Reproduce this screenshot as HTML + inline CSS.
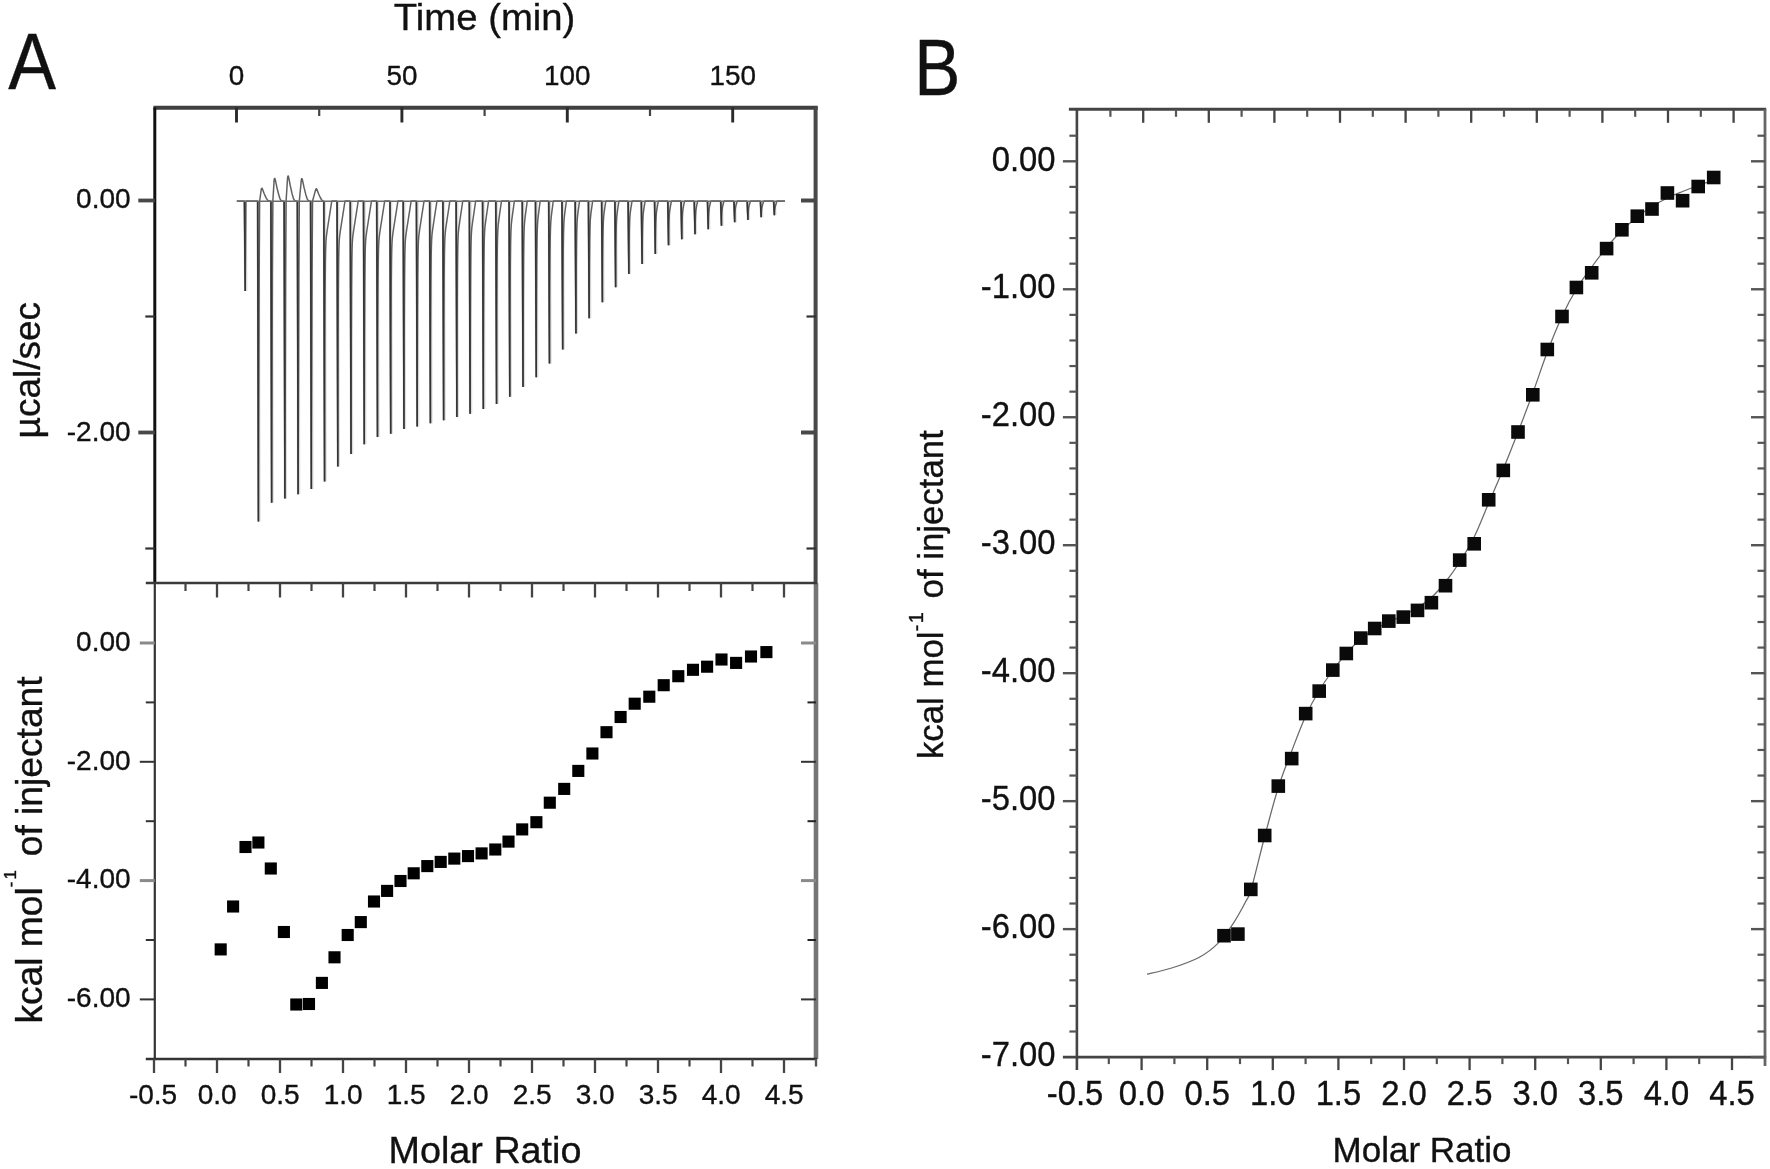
<!DOCTYPE html>
<html lang="en">
<head>
<meta charset="utf-8">
<title>ITC titration figure</title>
<style>
html,body{margin:0;padding:0;background:#fff;}
body{width:1770px;height:1169px;overflow:hidden;}
svg{display:block;filter:blur(0.55px);}
.t{font-family:"Liberation Sans",sans-serif;fill:#111;stroke:#111;stroke-width:0.35px;}
</style>
</head>
<body>
<svg width="1770" height="1169" viewBox="0 0 1770 1169">
<rect x="0" y="0" width="1770" height="1169" fill="#fff"/>
<line x1="153.40" y1="107.80" x2="817.80" y2="107.80" stroke="#404040" stroke-width="4.0" />
<line x1="154.80" y1="107.50" x2="154.80" y2="583.00" stroke="#111" stroke-width="3.0" />
<line x1="154.80" y1="583.00" x2="154.80" y2="1059.00" stroke="#333" stroke-width="2.2" />
<line x1="815.60" y1="107.50" x2="815.60" y2="583.00" stroke="#484848" stroke-width="4.0" />
<line x1="816.00" y1="583.00" x2="816.00" y2="1059.00" stroke="#747474" stroke-width="4.6" />
<line x1="145.80" y1="583.00" x2="817.00" y2="583.00" stroke="#3a3a3a" stroke-width="2.6" />
<line x1="145.80" y1="1059.00" x2="817.00" y2="1059.00" stroke="#333" stroke-width="2.4" />
<line x1="236.50" y1="107.50" x2="236.50" y2="122.50" stroke="#2a2a2a" stroke-width="2.9" />
<text class="t" font-size="28" text-anchor="middle" transform="translate(236.50 85.20) scale(0.995 1)" >0</text>
<line x1="401.90" y1="107.50" x2="401.90" y2="122.50" stroke="#2a2a2a" stroke-width="2.9" />
<text class="t" font-size="28" text-anchor="middle" transform="translate(401.90 85.20) scale(0.995 1)" >50</text>
<line x1="567.30" y1="107.50" x2="567.30" y2="122.50" stroke="#2a2a2a" stroke-width="2.9" />
<text class="t" font-size="28" text-anchor="middle" transform="translate(567.30 85.20) scale(0.995 1)" >100</text>
<line x1="732.70" y1="107.50" x2="732.70" y2="122.50" stroke="#2a2a2a" stroke-width="2.9" />
<text class="t" font-size="28" text-anchor="middle" transform="translate(732.70 85.20) scale(0.995 1)" >150</text>
<line x1="319.20" y1="107.50" x2="319.20" y2="116.00" stroke="#444" stroke-width="2.2" />
<line x1="484.60" y1="107.50" x2="484.60" y2="116.00" stroke="#444" stroke-width="2.2" />
<line x1="650.00" y1="107.50" x2="650.00" y2="116.00" stroke="#444" stroke-width="2.2" />
<text class="t" font-size="37" text-anchor="middle" transform="translate(484.6 30.2) scale(1.035 1)">Time (min)</text>
<line x1="138.30" y1="200.50" x2="154.80" y2="200.50" stroke="#484848" stroke-width="3.8" />
<line x1="801.00" y1="200.50" x2="816.00" y2="200.50" stroke="#484848" stroke-width="4.0" />
<text class="t" font-size="28" text-anchor="end" transform="translate(130.60 207.50) scale(1.0 1)" >0.00</text>
<line x1="138.30" y1="432.50" x2="154.80" y2="432.50" stroke="#484848" stroke-width="3.8" />
<line x1="801.00" y1="432.50" x2="816.00" y2="432.50" stroke="#484848" stroke-width="4.0" />
<text class="t" font-size="28" text-anchor="end" transform="translate(130.60 441.10) scale(1.0 1)" >-2.00</text>
<line x1="145.30" y1="316.50" x2="154.80" y2="316.50" stroke="#333" stroke-width="2.2" />
<line x1="806.50" y1="316.50" x2="816.00" y2="316.50" stroke="#333" stroke-width="2.2" />
<line x1="145.30" y1="548.50" x2="154.80" y2="548.50" stroke="#333" stroke-width="2.2" />
<line x1="806.50" y1="548.50" x2="816.00" y2="548.50" stroke="#333" stroke-width="2.2" />
<text class="t" font-size="37" text-anchor="middle" transform="translate(39.8 370.2) rotate(-90)">µcal/sec</text>
<path d="M236.80,201.00 L244.30,201.00 L245.20,291.00 L245.90,201.00 L257.53,201.00 L258.43,521.60 L259.13,281.15 L259.63,201.00 L261.33,188.91 L261.83,188.00 L262.43,188.91 L264.03,193.20 L265.83,197.36 L267.33,199.96 L268.63,201.00 L270.76,201.00 L271.66,502.70 L272.36,276.43 L272.86,201.00 L274.16,179.61 L274.66,178.00 L275.26,179.61 L276.86,187.20 L278.66,194.56 L280.16,199.16 L281.46,201.00 L283.99,201.00 L284.89,498.50 L285.59,275.38 L286.09,201.00 L287.59,177.38 L288.09,175.60 L288.69,177.38 L290.29,185.76 L292.09,193.89 L293.59,198.97 L294.89,201.00 L297.22,201.00 L298.12,494.20 L298.82,274.30 L299.32,201.00 L301.32,179.89 L301.82,178.30 L302.42,179.89 L304.02,187.38 L305.82,194.64 L307.32,199.18 L308.62,201.00 L310.45,201.00 L311.35,489.00 L312.05,273.00 L312.55,201.00 L315.75,189.38 L316.25,188.50 L316.85,189.38 L318.45,193.50 L320.25,197.50 L321.75,200.00 L323.05,201.00 L323.68,201.00 L324.58,481.40 L324.83,352.72 L325.08,292.94 L325.33,264.70 L325.58,250.91 L325.83,243.73 L326.08,239.58 L326.33,236.81 L326.58,234.67 L326.83,232.83 L327.08,231.12 L327.33,229.47 L327.58,227.85 L327.83,226.25 L328.08,224.64 L328.33,223.04 L328.58,221.45 L328.83,219.85 L329.08,218.25 L329.33,216.65 L329.58,215.06 L329.83,213.46 L330.08,211.86 L330.33,210.26 L330.58,208.67 L330.83,207.07 L331.08,205.47 L331.33,203.88 L331.58,202.28 L331.83,201.00 L336.91,201.00 L337.81,466.50 L338.06,345.90 L338.31,289.82 L338.56,263.27 L338.81,250.26 L339.06,243.43 L339.31,239.44 L339.56,236.74 L339.81,234.65 L340.06,232.82 L340.31,231.12 L340.56,229.47 L340.81,227.85 L341.06,226.24 L341.31,224.64 L341.56,223.04 L341.81,221.45 L342.06,219.85 L342.31,218.25 L342.56,216.65 L342.81,215.06 L343.06,213.46 L343.31,211.86 L343.56,210.26 L343.81,208.67 L344.06,207.07 L344.31,205.47 L344.56,203.88 L344.81,202.28 L345.06,201.00 L350.14,201.00 L351.04,454.00 L351.29,340.17 L351.54,287.20 L351.79,262.07 L352.04,249.71 L352.29,243.18 L352.54,239.32 L352.79,236.69 L353.04,234.62 L353.29,232.81 L353.54,231.11 L353.79,229.47 L354.04,227.85 L354.29,226.24 L354.54,224.64 L354.79,223.04 L355.04,221.45 L355.29,219.85 L355.54,218.25 L355.79,216.65 L356.04,215.06 L356.29,213.46 L356.54,211.86 L356.79,210.26 L357.04,208.67 L357.29,207.07 L357.54,205.47 L357.79,203.88 L358.04,202.28 L358.29,201.00 L363.37,201.00 L364.27,444.20 L364.52,335.69 L364.77,285.14 L365.02,261.13 L365.27,249.28 L365.52,242.98 L365.77,239.23 L366.02,236.65 L366.27,234.60 L366.52,232.80 L366.77,231.11 L367.02,229.47 L367.27,227.85 L367.52,226.24 L367.77,224.64 L368.02,223.04 L368.27,221.45 L368.52,219.85 L368.77,218.25 L369.02,216.65 L369.27,215.06 L369.52,213.46 L369.77,211.86 L370.02,210.26 L370.27,208.67 L370.52,207.07 L370.77,205.47 L371.02,203.88 L371.27,202.28 L371.52,201.00 L376.60,201.00 L377.50,436.90 L377.75,332.35 L378.00,283.61 L378.25,260.43 L378.50,248.95 L378.75,242.83 L379.00,239.17 L379.25,236.62 L379.50,234.59 L379.75,232.79 L380.00,231.10 L380.25,229.47 L380.50,227.85 L380.75,226.24 L381.00,224.64 L381.25,223.04 L381.50,221.45 L381.75,219.85 L382.00,218.25 L382.25,216.65 L382.50,215.06 L382.75,213.46 L383.00,211.86 L383.25,210.26 L383.50,208.67 L383.75,207.07 L384.00,205.47 L384.25,203.88 L384.50,202.28 L384.75,201.00 L389.83,201.00 L390.73,433.80 L390.98,330.93 L391.23,282.96 L391.48,260.13 L391.73,248.82 L391.98,242.77 L392.23,239.14 L392.48,236.61 L392.73,234.58 L392.98,232.79 L393.23,231.10 L393.48,229.47 L393.73,227.85 L393.98,226.24 L394.23,224.64 L394.48,223.04 L394.73,221.45 L394.98,219.85 L395.23,218.25 L395.48,216.65 L395.73,215.06 L395.98,213.46 L396.23,211.86 L396.48,210.26 L396.73,208.67 L396.98,207.07 L397.23,205.47 L397.48,203.88 L397.73,202.28 L397.98,201.00 L403.06,201.00 L403.96,428.90 L404.21,328.68 L404.46,281.93 L404.71,259.66 L404.96,248.60 L405.21,242.67 L405.46,239.09 L405.71,236.59 L405.96,234.57 L406.21,232.79 L406.46,231.10 L406.71,229.46 L406.96,227.85 L407.21,226.24 L407.46,224.64 L407.71,223.04 L407.96,221.45 L408.21,219.85 L408.46,218.25 L408.71,216.65 L408.96,215.06 L409.21,213.46 L409.46,211.86 L409.71,210.26 L409.96,208.67 L410.21,207.07 L410.46,205.47 L410.71,203.88 L410.96,202.28 L411.21,201.00 L416.29,201.00 L417.19,426.60 L417.44,326.74 L417.69,280.15 L417.94,257.94 L418.19,246.90 L418.44,240.97 L418.69,237.37 L418.94,234.85 L419.19,232.82 L419.44,231.02 L419.69,229.32 L419.94,227.66 L420.19,226.03 L420.44,224.40 L420.69,222.78 L420.94,221.17 L421.19,219.55 L421.44,217.93 L421.69,216.32 L421.94,214.70 L422.19,213.09 L422.44,211.47 L422.69,209.85 L422.94,208.24 L423.19,206.62 L423.44,205.01 L423.69,203.39 L423.94,201.78 L424.19,201.00 L429.52,201.00 L430.42,423.20 L430.67,324.30 L430.92,278.13 L431.17,256.11 L431.42,245.14 L431.67,239.23 L431.92,235.64 L432.17,233.10 L432.42,231.06 L432.67,229.23 L432.92,227.51 L433.17,225.84 L433.42,224.18 L433.67,222.54 L433.92,220.90 L434.17,219.26 L434.42,217.62 L434.67,215.99 L434.92,214.35 L435.17,212.71 L435.42,211.08 L435.67,209.44 L435.92,207.81 L436.17,206.17 L436.42,204.53 L436.67,202.90 L436.92,201.26 L437.17,201.00 L442.75,201.00 L443.65,420.30 L443.90,322.08 L444.15,276.21 L444.40,254.32 L444.65,243.39 L444.90,237.49 L445.15,233.89 L445.40,231.34 L445.65,229.27 L445.90,227.43 L446.15,225.69 L446.40,223.99 L446.65,222.31 L446.90,220.64 L447.15,218.98 L447.40,217.32 L447.65,215.66 L447.90,214.00 L448.15,212.35 L448.40,210.69 L448.65,209.03 L448.90,207.37 L449.15,205.71 L449.40,204.05 L449.65,202.39 L449.90,201.00 L455.98,201.00 L456.88,416.90 L457.13,319.63 L457.38,274.19 L457.63,252.47 L457.88,241.61 L458.13,235.73 L458.38,232.12 L458.63,229.56 L458.88,227.47 L459.13,225.60 L459.38,223.83 L459.63,222.11 L459.88,220.41 L460.13,218.72 L460.38,217.03 L460.63,215.35 L460.88,213.66 L461.13,211.98 L461.38,210.29 L461.63,208.61 L461.88,206.93 L462.13,205.24 L462.38,203.56 L462.63,201.88 L462.88,201.00 L469.21,201.00 L470.11,413.80 L470.36,317.32 L470.61,272.22 L470.86,250.64 L471.11,239.83 L471.36,233.96 L471.61,230.34 L471.86,227.76 L472.11,225.64 L472.36,223.75 L472.61,221.95 L472.86,220.20 L473.11,218.47 L473.36,216.75 L473.61,215.04 L473.86,213.33 L474.11,211.61 L474.36,209.90 L474.61,208.19 L474.86,206.48 L475.11,204.77 L475.36,203.05 L475.61,201.34 L475.86,201.00 L482.44,201.00 L483.34,409.00 L483.59,314.22 L483.84,269.88 L484.09,248.64 L484.34,237.97 L484.59,232.14 L484.84,228.52 L485.09,225.92 L485.34,223.78 L485.59,221.86 L485.84,220.04 L486.09,218.26 L486.34,216.50 L486.59,214.74 L486.84,213.00 L487.09,211.25 L487.34,209.51 L487.59,207.76 L487.84,206.02 L488.09,204.28 L488.34,202.53 L488.59,201.00 L495.67,201.00 L496.57,403.90 L496.82,310.98 L497.07,267.48 L497.32,246.59 L497.57,236.07 L497.82,230.29 L498.07,226.67 L498.32,224.05 L498.57,221.89 L498.82,219.94 L499.07,218.08 L499.32,216.26 L499.57,214.46 L499.82,212.68 L500.07,210.90 L500.32,209.11 L500.57,207.33 L500.82,205.55 L501.07,203.78 L501.32,202.00 L501.57,201.00 L508.90,201.00 L509.80,396.70 L510.05,306.78 L510.30,264.62 L510.55,244.33 L510.80,234.06 L511.05,228.37 L511.30,224.78 L511.55,222.14 L511.80,219.95 L512.05,217.96 L512.30,216.06 L512.55,214.21 L512.80,212.37 L513.05,210.54 L513.30,208.72 L513.55,206.90 L513.80,205.08 L514.05,203.26 L514.30,201.44 L514.55,201.00 L522.13,201.00 L523.03,387.00 L523.28,301.42 L523.53,261.23 L523.78,241.81 L524.03,231.91 L524.28,226.37 L524.53,222.82 L524.78,220.18 L525.03,217.96 L525.28,215.93 L525.53,213.99 L525.78,212.08 L526.03,210.20 L526.28,208.33 L526.53,206.46 L526.78,204.59 L527.03,202.72 L527.28,201.00 L535.36,201.00 L536.26,377.20 L536.51,296.01 L536.76,257.80 L537.01,239.26 L537.26,229.73 L537.51,224.33 L537.76,220.81 L538.01,218.15 L538.26,215.90 L538.51,213.82 L538.76,211.83 L539.01,209.87 L539.26,207.94 L539.51,206.01 L539.76,204.08 L540.01,202.16 L540.26,201.00 L548.59,201.00 L549.49,363.50 L549.74,288.97 L549.99,253.84 L550.24,236.73 L550.49,227.89 L550.74,222.82 L550.99,219.48 L551.24,216.94 L551.49,214.76 L551.74,212.74 L551.99,210.80 L552.24,208.90 L552.49,207.01 L552.74,205.13 L552.99,203.25 L553.24,201.38 L553.49,201.00 L561.82,201.00 L562.72,349.40 L562.97,281.76 L563.22,249.80 L563.47,234.18 L563.72,226.04 L563.97,221.32 L564.22,218.17 L564.47,215.74 L564.72,213.64 L564.97,211.69 L565.22,209.81 L565.47,207.95 L565.72,206.12 L565.97,204.29 L566.22,202.46 L566.47,201.00 L575.05,201.00 L575.95,333.40 L576.20,273.67 L576.45,245.37 L576.70,231.45 L576.95,224.11 L577.20,219.80 L577.45,216.86 L577.70,214.55 L577.95,212.54 L578.20,210.66 L578.45,208.83 L578.70,207.04 L578.95,205.26 L579.20,203.48 L579.45,201.71 L579.70,201.00 L588.28,201.00 L589.18,318.30 L589.43,266.00 L589.68,241.13 L589.93,228.81 L590.18,222.24 L590.43,218.31 L590.68,215.57 L590.93,213.39 L591.18,211.47 L591.43,209.65 L591.68,207.89 L591.93,206.16 L592.18,204.44 L592.43,202.72 L592.68,201.00 L592.93,201.00 L601.51,201.00 L602.41,302.30 L602.66,257.92 L602.91,236.71 L603.16,226.10 L603.41,220.34 L603.66,216.81 L603.91,214.30 L604.16,212.25 L604.41,210.42 L604.66,208.68 L604.91,206.99 L605.16,205.32 L605.41,203.65 L605.66,202.00 L605.91,201.00 L614.74,201.00 L615.64,287.30 L615.89,250.31 L616.14,232.51 L616.39,223.49 L616.64,218.51 L616.89,215.36 L617.14,213.06 L617.39,211.14 L617.64,209.40 L617.89,207.74 L618.14,206.12 L618.39,204.51 L618.64,202.91 L618.89,201.32 L619.14,201.00 L627.97,201.00 L628.87,274.10 L629.12,243.52 L629.37,228.69 L629.62,221.07 L629.87,216.76 L630.12,213.96 L630.37,211.85 L630.62,210.06 L630.87,208.42 L631.12,206.84 L631.37,205.29 L631.62,203.75 L631.87,202.22 L632.12,201.00 L641.20,201.00 L642.10,264.10 L642.35,238.20 L642.60,225.55 L642.85,218.97 L643.10,215.18 L643.35,212.65 L643.60,210.71 L643.85,209.03 L644.10,207.47 L644.35,205.98 L644.60,204.50 L644.85,203.04 L645.10,201.58 L645.35,201.00 L654.43,201.00 L655.33,254.00 L655.58,232.84 L655.83,222.40 L656.08,216.88 L656.33,213.60 L656.58,211.36 L656.83,209.59 L657.08,208.03 L657.33,206.57 L657.58,205.16 L657.83,203.76 L658.08,202.38 L658.33,201.00 L658.58,201.00 L667.66,201.00 L668.56,245.30 L668.81,228.12 L669.06,219.56 L669.31,214.93 L669.56,212.11 L669.81,210.12 L670.06,208.51 L670.31,207.07 L670.56,205.71 L670.81,204.39 L671.06,203.08 L671.31,201.78 L671.56,201.00 L680.89,201.00 L681.79,239.30 L682.04,224.65 L682.29,217.29 L682.54,213.26 L682.79,210.77 L683.04,208.97 L683.29,207.50 L683.54,206.17 L683.79,204.91 L684.04,203.67 L684.29,202.46 L684.54,201.25 L684.79,201.00 L694.12,201.00 L695.02,234.20 L695.27,221.59 L695.52,215.22 L695.77,211.70 L696.02,209.49 L696.27,207.87 L696.52,206.53 L696.77,205.31 L697.02,204.15 L697.27,203.02 L697.52,201.90 L697.77,201.00 L707.35,201.00 L708.25,229.30 L708.50,218.64 L708.75,213.21 L709.00,210.18 L709.25,208.24 L709.50,206.81 L709.75,205.61 L710.00,204.51 L710.25,203.46 L710.50,202.43 L710.75,201.41 L711.00,201.00 L720.58,201.00 L721.48,225.70 L721.73,216.32 L721.98,211.56 L722.23,208.91 L722.48,207.23 L722.73,205.99 L722.98,204.95 L723.23,204.01 L723.48,203.11 L723.73,202.23 L723.98,201.35 L724.23,201.00 L733.81,201.00 L734.71,222.30 L734.96,214.32 L735.21,210.25 L735.46,207.97 L735.71,206.51 L735.96,205.42 L736.21,204.51 L736.46,203.67 L736.71,202.87 L736.96,202.09 L737.21,201.31 L737.46,201.00 L747.04,201.00 L747.94,219.90 L748.19,213.22 L748.44,209.75 L748.69,207.74 L748.94,206.40 L749.19,205.37 L749.44,204.49 L749.69,203.66 L749.94,202.87 L750.19,202.09 L750.44,201.31 L750.69,201.00 L760.27,201.00 L761.17,217.30 L761.42,212.03 L761.67,209.20 L761.92,207.49 L762.17,206.29 L762.42,205.32 L762.67,204.46 L762.92,203.65 L763.17,202.86 L763.42,202.08 L763.67,201.31 L763.92,201.00 L773.50,201.00 L774.40,215.20 L774.65,211.07 L774.90,208.76 L775.15,207.29 L775.40,206.20 L775.65,205.28 L775.90,204.44 L776.15,203.64 L776.40,202.86 L776.65,202.08 L776.90,201.31 L777.15,201.00 L785.00,201.00" fill="none" stroke="#454545" stroke-width="1.5" stroke-linejoin="bevel" stroke-opacity="0.85"/>
<path d="M244.55,201.00 L245.20,291.00 M257.78,201.00 L258.43,521.60 M271.01,201.00 L271.66,502.70 M284.24,201.00 L284.89,498.50 M297.47,201.00 L298.12,494.20 M310.70,201.00 L311.35,489.00 M323.93,201.00 L324.58,481.40 M337.16,201.00 L337.81,466.50 M350.39,201.00 L351.04,454.00 M363.62,201.00 L364.27,444.20 M376.85,201.00 L377.50,436.90 M390.08,201.00 L390.73,433.80 M403.31,201.00 L403.96,428.90 M416.54,201.00 L417.19,426.60 M429.77,201.00 L430.42,423.20 M443.00,201.00 L443.65,420.30 M456.23,201.00 L456.88,416.90 M469.46,201.00 L470.11,413.80 M482.69,201.00 L483.34,409.00 M495.92,201.00 L496.57,403.90 M509.15,201.00 L509.80,396.70 M522.38,201.00 L523.03,387.00 M535.61,201.00 L536.26,377.20 M548.84,201.00 L549.49,363.50 M562.07,201.00 L562.72,349.40 M575.30,201.00 L575.95,333.40 M588.53,201.00 L589.18,318.30 M601.76,201.00 L602.41,302.30 M614.99,201.00 L615.64,287.30 M628.22,201.00 L628.87,274.10 M641.45,201.00 L642.10,264.10 M654.68,201.00 L655.33,254.00 M667.91,201.00 L668.56,245.30 M681.14,201.00 L681.79,239.30 M694.37,201.00 L695.02,234.20 M707.60,201.00 L708.25,229.30 M720.83,201.00 L721.48,225.70 M734.06,201.00 L734.71,222.30 M747.29,201.00 L747.94,219.90 M760.52,201.00 L761.17,217.30 M773.75,201.00 L774.40,215.20 " fill="none" stroke="#555" stroke-width="3.4" stroke-opacity="0.2" transform="translate(0.5 0)"/>
<path d="M244.55,201.00 L245.20,291.00 M257.78,201.00 L258.43,521.60 M271.01,201.00 L271.66,502.70 M284.24,201.00 L284.89,498.50 M297.47,201.00 L298.12,494.20 M310.70,201.00 L311.35,489.00 M323.93,201.00 L324.58,481.40 M337.16,201.00 L337.81,466.50 M350.39,201.00 L351.04,454.00 M363.62,201.00 L364.27,444.20 M376.85,201.00 L377.50,436.90 M390.08,201.00 L390.73,433.80 M403.31,201.00 L403.96,428.90 M416.54,201.00 L417.19,426.60 M429.77,201.00 L430.42,423.20 M443.00,201.00 L443.65,420.30 M456.23,201.00 L456.88,416.90 M469.46,201.00 L470.11,413.80 M482.69,201.00 L483.34,409.00 M495.92,201.00 L496.57,403.90 M509.15,201.00 L509.80,396.70 M522.38,201.00 L523.03,387.00 M535.61,201.00 L536.26,377.20 M548.84,201.00 L549.49,363.50 M562.07,201.00 L562.72,349.40 M575.30,201.00 L575.95,333.40 M588.53,201.00 L589.18,318.30 M601.76,201.00 L602.41,302.30 M614.99,201.00 L615.64,287.30 M628.22,201.00 L628.87,274.10 M641.45,201.00 L642.10,264.10 M654.68,201.00 L655.33,254.00 M667.91,201.00 L668.56,245.30 M681.14,201.00 L681.79,239.30 M694.37,201.00 L695.02,234.20 M707.60,201.00 L708.25,229.30 M720.83,201.00 L721.48,225.70 M734.06,201.00 L734.71,222.30 M747.29,201.00 L747.94,219.90 M760.52,201.00 L761.17,217.30 M773.75,201.00 L774.40,215.20 " fill="none" stroke="#2e2e2e" stroke-width="1.55" stroke-opacity="0.88"/>
<line x1="236.80" y1="201.20" x2="785.00" y2="201.20" stroke="#6a6a6a" stroke-width="1.4" />
<line x1="154.00" y1="1059.00" x2="154.00" y2="1073.00" stroke="#444" stroke-width="2.3" />
<text class="t" font-size="28" text-anchor="middle" transform="translate(153.00 1103.60) scale(1.0 1)" >-0.5</text>
<line x1="185.50" y1="583.00" x2="185.50" y2="591.00" stroke="#444" stroke-width="2.2" />
<line x1="185.50" y1="1059.00" x2="185.50" y2="1066.50" stroke="#444" stroke-width="2.2" />
<line x1="217.00" y1="583.00" x2="217.00" y2="597.50" stroke="#444" stroke-width="2.3" />
<line x1="217.00" y1="1059.00" x2="217.00" y2="1073.00" stroke="#444" stroke-width="2.3" />
<text class="t" font-size="28" text-anchor="middle" transform="translate(217.20 1103.60) scale(1.0 1)" >0.0</text>
<line x1="248.50" y1="583.00" x2="248.50" y2="591.00" stroke="#444" stroke-width="2.2" />
<line x1="248.50" y1="1059.00" x2="248.50" y2="1066.50" stroke="#444" stroke-width="2.2" />
<line x1="280.00" y1="583.00" x2="280.00" y2="597.50" stroke="#444" stroke-width="2.3" />
<line x1="280.00" y1="1059.00" x2="280.00" y2="1073.00" stroke="#444" stroke-width="2.3" />
<text class="t" font-size="28" text-anchor="middle" transform="translate(280.20 1103.60) scale(1.0 1)" >0.5</text>
<line x1="311.50" y1="583.00" x2="311.50" y2="591.00" stroke="#444" stroke-width="2.2" />
<line x1="311.50" y1="1059.00" x2="311.50" y2="1066.50" stroke="#444" stroke-width="2.2" />
<line x1="343.00" y1="583.00" x2="343.00" y2="597.50" stroke="#444" stroke-width="2.3" />
<line x1="343.00" y1="1059.00" x2="343.00" y2="1073.00" stroke="#444" stroke-width="2.3" />
<text class="t" font-size="28" text-anchor="middle" transform="translate(343.20 1103.60) scale(1.0 1)" >1.0</text>
<line x1="374.50" y1="583.00" x2="374.50" y2="591.00" stroke="#444" stroke-width="2.2" />
<line x1="374.50" y1="1059.00" x2="374.50" y2="1066.50" stroke="#444" stroke-width="2.2" />
<line x1="406.00" y1="583.00" x2="406.00" y2="597.50" stroke="#444" stroke-width="2.3" />
<line x1="406.00" y1="1059.00" x2="406.00" y2="1073.00" stroke="#444" stroke-width="2.3" />
<text class="t" font-size="28" text-anchor="middle" transform="translate(406.20 1103.60) scale(1.0 1)" >1.5</text>
<line x1="437.50" y1="583.00" x2="437.50" y2="591.00" stroke="#444" stroke-width="2.2" />
<line x1="437.50" y1="1059.00" x2="437.50" y2="1066.50" stroke="#444" stroke-width="2.2" />
<line x1="469.00" y1="583.00" x2="469.00" y2="597.50" stroke="#444" stroke-width="2.3" />
<line x1="469.00" y1="1059.00" x2="469.00" y2="1073.00" stroke="#444" stroke-width="2.3" />
<text class="t" font-size="28" text-anchor="middle" transform="translate(469.20 1103.60) scale(1.0 1)" >2.0</text>
<line x1="500.50" y1="583.00" x2="500.50" y2="591.00" stroke="#444" stroke-width="2.2" />
<line x1="500.50" y1="1059.00" x2="500.50" y2="1066.50" stroke="#444" stroke-width="2.2" />
<line x1="532.00" y1="583.00" x2="532.00" y2="597.50" stroke="#444" stroke-width="2.3" />
<line x1="532.00" y1="1059.00" x2="532.00" y2="1073.00" stroke="#444" stroke-width="2.3" />
<text class="t" font-size="28" text-anchor="middle" transform="translate(532.20 1103.60) scale(1.0 1)" >2.5</text>
<line x1="563.50" y1="583.00" x2="563.50" y2="591.00" stroke="#444" stroke-width="2.2" />
<line x1="563.50" y1="1059.00" x2="563.50" y2="1066.50" stroke="#444" stroke-width="2.2" />
<line x1="595.00" y1="583.00" x2="595.00" y2="597.50" stroke="#444" stroke-width="2.3" />
<line x1="595.00" y1="1059.00" x2="595.00" y2="1073.00" stroke="#444" stroke-width="2.3" />
<text class="t" font-size="28" text-anchor="middle" transform="translate(595.20 1103.60) scale(1.0 1)" >3.0</text>
<line x1="626.50" y1="583.00" x2="626.50" y2="591.00" stroke="#444" stroke-width="2.2" />
<line x1="626.50" y1="1059.00" x2="626.50" y2="1066.50" stroke="#444" stroke-width="2.2" />
<line x1="658.00" y1="583.00" x2="658.00" y2="597.50" stroke="#444" stroke-width="2.3" />
<line x1="658.00" y1="1059.00" x2="658.00" y2="1073.00" stroke="#444" stroke-width="2.3" />
<text class="t" font-size="28" text-anchor="middle" transform="translate(658.20 1103.60) scale(1.0 1)" >3.5</text>
<line x1="689.50" y1="583.00" x2="689.50" y2="591.00" stroke="#444" stroke-width="2.2" />
<line x1="689.50" y1="1059.00" x2="689.50" y2="1066.50" stroke="#444" stroke-width="2.2" />
<line x1="721.00" y1="583.00" x2="721.00" y2="597.50" stroke="#444" stroke-width="2.3" />
<line x1="721.00" y1="1059.00" x2="721.00" y2="1073.00" stroke="#444" stroke-width="2.3" />
<text class="t" font-size="28" text-anchor="middle" transform="translate(721.20 1103.60) scale(1.0 1)" >4.0</text>
<line x1="752.50" y1="583.00" x2="752.50" y2="591.00" stroke="#444" stroke-width="2.2" />
<line x1="752.50" y1="1059.00" x2="752.50" y2="1066.50" stroke="#444" stroke-width="2.2" />
<line x1="784.00" y1="583.00" x2="784.00" y2="597.50" stroke="#444" stroke-width="2.3" />
<line x1="784.00" y1="1059.00" x2="784.00" y2="1073.00" stroke="#444" stroke-width="2.3" />
<text class="t" font-size="28" text-anchor="middle" transform="translate(784.20 1103.60) scale(1.0 1)" >4.5</text>
<text class="t" font-size="37" text-anchor="middle" transform="translate(485.00 1162.50) scale(1.02 1)" >Molar Ratio</text>
<line x1="816.00" y1="1059.00" x2="816.00" y2="1066.50" stroke="#555" stroke-width="2.4" />
<line x1="139.80" y1="643.00" x2="154.80" y2="643.00" stroke="#8a8a8a" stroke-width="3.0" />
<line x1="801.00" y1="643.00" x2="816.00" y2="643.00" stroke="#8a8a8a" stroke-width="3.0" />
<text class="t" font-size="28" text-anchor="end" transform="translate(130.60 650.80) scale(1.0 1)" >0.00</text>
<line x1="139.80" y1="761.80" x2="154.80" y2="761.80" stroke="#333" stroke-width="2.0" />
<line x1="801.00" y1="761.80" x2="816.00" y2="761.80" stroke="#333" stroke-width="2.0" />
<text class="t" font-size="28" text-anchor="end" transform="translate(130.60 769.60) scale(1.0 1)" >-2.00</text>
<line x1="139.80" y1="880.60" x2="154.80" y2="880.60" stroke="#8a8a8a" stroke-width="3.0" />
<line x1="801.00" y1="880.60" x2="816.00" y2="880.60" stroke="#8a8a8a" stroke-width="3.0" />
<text class="t" font-size="28" text-anchor="end" transform="translate(130.60 888.40) scale(1.0 1)" >-4.00</text>
<line x1="139.80" y1="999.40" x2="154.80" y2="999.40" stroke="#333" stroke-width="2.0" />
<line x1="801.00" y1="999.40" x2="816.00" y2="999.40" stroke="#333" stroke-width="2.0" />
<text class="t" font-size="28" text-anchor="end" transform="translate(130.60 1007.20) scale(1.0 1)" >-6.00</text>
<line x1="145.80" y1="702.40" x2="154.80" y2="702.40" stroke="#333" stroke-width="2.0" />
<line x1="807.50" y1="702.40" x2="816.00" y2="702.40" stroke="#222" stroke-width="2.0" />
<line x1="145.80" y1="821.20" x2="154.80" y2="821.20" stroke="#333" stroke-width="2.0" />
<line x1="807.50" y1="821.20" x2="816.00" y2="821.20" stroke="#222" stroke-width="2.0" />
<line x1="145.80" y1="940.00" x2="154.80" y2="940.00" stroke="#333" stroke-width="2.0" />
<line x1="807.50" y1="940.00" x2="816.00" y2="940.00" stroke="#222" stroke-width="2.0" />
<text class="t" font-size="37.2" text-anchor="middle" transform="translate(41.6 850.0) rotate(-90)">kcal mol<tspan font-size="17" dy="-26" letter-spacing="2">-1</tspan><tspan dy="26" dx="1.5"> of injectant</tspan></text>
<rect x="214.65" y="943.35" width="12.1" height="12.1" fill="#000"/>
<rect x="227.05" y="900.45" width="12.1" height="12.1" fill="#000"/>
<rect x="239.45" y="840.95" width="12.1" height="12.1" fill="#000"/>
<rect x="252.35" y="836.45" width="12.1" height="12.1" fill="#000"/>
<rect x="264.75" y="862.45" width="12.1" height="12.1" fill="#000"/>
<rect x="277.85" y="925.95" width="12.1" height="12.1" fill="#000"/>
<rect x="290.25" y="998.45" width="12.1" height="12.1" fill="#000"/>
<rect x="302.95" y="997.95" width="12.1" height="12.1" fill="#000"/>
<rect x="315.85" y="976.85" width="12.1" height="12.1" fill="#000"/>
<rect x="328.45" y="951.25" width="12.1" height="12.1" fill="#000"/>
<rect x="341.65" y="928.95" width="12.1" height="12.1" fill="#000"/>
<rect x="354.75" y="916.05" width="12.1" height="12.1" fill="#000"/>
<rect x="367.95" y="895.45" width="12.1" height="12.1" fill="#000"/>
<rect x="381.05" y="884.85" width="12.1" height="12.1" fill="#000"/>
<rect x="394.45" y="874.95" width="12.1" height="12.1" fill="#000"/>
<rect x="407.65" y="867.25" width="12.1" height="12.1" fill="#000"/>
<rect x="421.25" y="860.05" width="12.1" height="12.1" fill="#000"/>
<rect x="434.65" y="855.85" width="12.1" height="12.1" fill="#000"/>
<rect x="448.25" y="852.55" width="12.1" height="12.1" fill="#000"/>
<rect x="461.95" y="850.05" width="12.1" height="12.1" fill="#000"/>
<rect x="475.55" y="847.35" width="12.1" height="12.1" fill="#000"/>
<rect x="489.25" y="843.45" width="12.1" height="12.1" fill="#000"/>
<rect x="502.45" y="835.55" width="12.1" height="12.1" fill="#000"/>
<rect x="516.15" y="823.35" width="12.1" height="12.1" fill="#000"/>
<rect x="530.35" y="816.15" width="12.1" height="12.1" fill="#000"/>
<rect x="543.75" y="796.65" width="12.1" height="12.1" fill="#000"/>
<rect x="558.15" y="782.85" width="12.1" height="12.1" fill="#000"/>
<rect x="572.25" y="764.85" width="12.1" height="12.1" fill="#000"/>
<rect x="586.35" y="747.45" width="12.1" height="12.1" fill="#000"/>
<rect x="600.45" y="726.15" width="12.1" height="12.1" fill="#000"/>
<rect x="614.55" y="710.95" width="12.1" height="12.1" fill="#000"/>
<rect x="628.65" y="697.65" width="12.1" height="12.1" fill="#000"/>
<rect x="643.25" y="690.65" width="12.1" height="12.1" fill="#000"/>
<rect x="657.65" y="679.15" width="12.1" height="12.1" fill="#000"/>
<rect x="672.25" y="670.15" width="12.1" height="12.1" fill="#000"/>
<rect x="686.95" y="663.75" width="12.1" height="12.1" fill="#000"/>
<rect x="701.05" y="660.65" width="12.1" height="12.1" fill="#000"/>
<rect x="715.45" y="653.45" width="12.1" height="12.1" fill="#000"/>
<rect x="730.05" y="656.85" width="12.1" height="12.1" fill="#000"/>
<rect x="744.95" y="650.45" width="12.1" height="12.1" fill="#000"/>
<rect x="760.35" y="646.05" width="12.1" height="12.1" fill="#000"/>
<text class="t" font-size="80" transform="translate(32.2 89.2) scale(0.895 1)" text-anchor="middle">A</text>
<line x1="1068.90" y1="109.30" x2="1766.20" y2="109.30" stroke="#444" stroke-width="3.0" />
<line x1="1062.90" y1="1057.10" x2="1766.20" y2="1057.10" stroke="#444" stroke-width="2.8" />
<line x1="1076.90" y1="109.30" x2="1076.90" y2="1070.10" stroke="#444" stroke-width="2.6" />
<line x1="1765.00" y1="109.30" x2="1765.00" y2="1066.10" stroke="#666" stroke-width="2.8" />
<text class="t" font-size="34.5" text-anchor="middle" transform="translate(1075.00 1104.50) scale(0.95 1)" >-0.5</text>
<line x1="1110.40" y1="109.30" x2="1110.40" y2="116.80" stroke="#555" stroke-width="2.2" />
<line x1="1108.80" y1="1057.10" x2="1108.80" y2="1064.10" stroke="#555" stroke-width="2.2" />
<line x1="1143.20" y1="109.30" x2="1143.20" y2="122.80" stroke="#444" stroke-width="2.3" />
<line x1="1141.60" y1="1057.10" x2="1141.60" y2="1070.10" stroke="#444" stroke-width="2.3" />
<text class="t" font-size="34.5" text-anchor="middle" transform="translate(1141.60 1104.50) scale(0.95 1)" >0.0</text>
<line x1="1176.00" y1="109.30" x2="1176.00" y2="116.80" stroke="#555" stroke-width="2.2" />
<line x1="1174.40" y1="1057.10" x2="1174.40" y2="1064.10" stroke="#555" stroke-width="2.2" />
<line x1="1208.80" y1="109.30" x2="1208.80" y2="122.80" stroke="#444" stroke-width="2.3" />
<line x1="1207.20" y1="1057.10" x2="1207.20" y2="1070.10" stroke="#444" stroke-width="2.3" />
<text class="t" font-size="34.5" text-anchor="middle" transform="translate(1207.20 1104.50) scale(0.95 1)" >0.5</text>
<line x1="1241.60" y1="109.30" x2="1241.60" y2="116.80" stroke="#555" stroke-width="2.2" />
<line x1="1240.00" y1="1057.10" x2="1240.00" y2="1064.10" stroke="#555" stroke-width="2.2" />
<line x1="1274.40" y1="109.30" x2="1274.40" y2="122.80" stroke="#444" stroke-width="2.3" />
<line x1="1272.80" y1="1057.10" x2="1272.80" y2="1070.10" stroke="#444" stroke-width="2.3" />
<text class="t" font-size="34.5" text-anchor="middle" transform="translate(1272.80 1104.50) scale(0.95 1)" >1.0</text>
<line x1="1307.20" y1="109.30" x2="1307.20" y2="116.80" stroke="#555" stroke-width="2.2" />
<line x1="1305.60" y1="1057.10" x2="1305.60" y2="1064.10" stroke="#555" stroke-width="2.2" />
<line x1="1340.00" y1="109.30" x2="1340.00" y2="122.80" stroke="#444" stroke-width="2.3" />
<line x1="1338.40" y1="1057.10" x2="1338.40" y2="1070.10" stroke="#444" stroke-width="2.3" />
<text class="t" font-size="34.5" text-anchor="middle" transform="translate(1338.40 1104.50) scale(0.95 1)" >1.5</text>
<line x1="1372.80" y1="109.30" x2="1372.80" y2="116.80" stroke="#555" stroke-width="2.2" />
<line x1="1371.20" y1="1057.10" x2="1371.20" y2="1064.10" stroke="#555" stroke-width="2.2" />
<line x1="1405.60" y1="109.30" x2="1405.60" y2="122.80" stroke="#444" stroke-width="2.3" />
<line x1="1404.00" y1="1057.10" x2="1404.00" y2="1070.10" stroke="#444" stroke-width="2.3" />
<text class="t" font-size="34.5" text-anchor="middle" transform="translate(1404.00 1104.50) scale(0.95 1)" >2.0</text>
<line x1="1438.40" y1="109.30" x2="1438.40" y2="116.80" stroke="#555" stroke-width="2.2" />
<line x1="1436.80" y1="1057.10" x2="1436.80" y2="1064.10" stroke="#555" stroke-width="2.2" />
<line x1="1471.20" y1="109.30" x2="1471.20" y2="122.80" stroke="#444" stroke-width="2.3" />
<line x1="1469.60" y1="1057.10" x2="1469.60" y2="1070.10" stroke="#444" stroke-width="2.3" />
<text class="t" font-size="34.5" text-anchor="middle" transform="translate(1469.60 1104.50) scale(0.95 1)" >2.5</text>
<line x1="1504.00" y1="109.30" x2="1504.00" y2="116.80" stroke="#555" stroke-width="2.2" />
<line x1="1502.40" y1="1057.10" x2="1502.40" y2="1064.10" stroke="#555" stroke-width="2.2" />
<line x1="1536.80" y1="109.30" x2="1536.80" y2="122.80" stroke="#444" stroke-width="2.3" />
<line x1="1535.20" y1="1057.10" x2="1535.20" y2="1070.10" stroke="#444" stroke-width="2.3" />
<text class="t" font-size="34.5" text-anchor="middle" transform="translate(1535.20 1104.50) scale(0.95 1)" >3.0</text>
<line x1="1569.60" y1="109.30" x2="1569.60" y2="116.80" stroke="#555" stroke-width="2.2" />
<line x1="1568.00" y1="1057.10" x2="1568.00" y2="1064.10" stroke="#555" stroke-width="2.2" />
<line x1="1602.40" y1="109.30" x2="1602.40" y2="122.80" stroke="#444" stroke-width="2.3" />
<line x1="1600.80" y1="1057.10" x2="1600.80" y2="1070.10" stroke="#444" stroke-width="2.3" />
<text class="t" font-size="34.5" text-anchor="middle" transform="translate(1600.80 1104.50) scale(0.95 1)" >3.5</text>
<line x1="1635.20" y1="109.30" x2="1635.20" y2="116.80" stroke="#555" stroke-width="2.2" />
<line x1="1633.60" y1="1057.10" x2="1633.60" y2="1064.10" stroke="#555" stroke-width="2.2" />
<line x1="1668.00" y1="109.30" x2="1668.00" y2="122.80" stroke="#444" stroke-width="2.3" />
<line x1="1666.40" y1="1057.10" x2="1666.40" y2="1070.10" stroke="#444" stroke-width="2.3" />
<text class="t" font-size="34.5" text-anchor="middle" transform="translate(1666.40 1104.50) scale(0.95 1)" >4.0</text>
<line x1="1700.80" y1="109.30" x2="1700.80" y2="116.80" stroke="#555" stroke-width="2.2" />
<line x1="1699.20" y1="1057.10" x2="1699.20" y2="1064.10" stroke="#555" stroke-width="2.2" />
<line x1="1733.60" y1="109.30" x2="1733.60" y2="122.80" stroke="#444" stroke-width="2.3" />
<line x1="1732.00" y1="1057.10" x2="1732.00" y2="1070.10" stroke="#444" stroke-width="2.3" />
<text class="t" font-size="34.5" text-anchor="middle" transform="translate(1732.00 1104.50) scale(0.95 1)" >4.5</text>
<text class="t" font-size="35" text-anchor="middle" transform="translate(1422.00 1162.20) scale(1.0 1)" >Molar Ratio</text>
<line x1="1069.40" y1="135.71" x2="1076.90" y2="135.71" stroke="#555" stroke-width="2.2" />
<line x1="1757.50" y1="135.71" x2="1765.00" y2="135.71" stroke="#555" stroke-width="2.2" />
<line x1="1062.90" y1="161.30" x2="1076.90" y2="161.30" stroke="#555" stroke-width="2.4" />
<line x1="1751.00" y1="161.30" x2="1765.00" y2="161.30" stroke="#555" stroke-width="2.4" />
<text class="t" font-size="34.5" text-anchor="end" transform="translate(1055.50 170.50) scale(0.95 1)" >0.00</text>
<line x1="1069.40" y1="186.89" x2="1076.90" y2="186.89" stroke="#555" stroke-width="2.2" />
<line x1="1757.50" y1="186.89" x2="1765.00" y2="186.89" stroke="#555" stroke-width="2.2" />
<line x1="1069.40" y1="212.49" x2="1076.90" y2="212.49" stroke="#555" stroke-width="2.2" />
<line x1="1757.50" y1="212.49" x2="1765.00" y2="212.49" stroke="#555" stroke-width="2.2" />
<line x1="1069.40" y1="238.08" x2="1076.90" y2="238.08" stroke="#555" stroke-width="2.2" />
<line x1="1757.50" y1="238.08" x2="1765.00" y2="238.08" stroke="#555" stroke-width="2.2" />
<line x1="1069.40" y1="263.68" x2="1076.90" y2="263.68" stroke="#555" stroke-width="2.2" />
<line x1="1757.50" y1="263.68" x2="1765.00" y2="263.68" stroke="#555" stroke-width="2.2" />
<line x1="1062.90" y1="289.27" x2="1076.90" y2="289.27" stroke="#555" stroke-width="2.4" />
<line x1="1751.00" y1="289.27" x2="1765.00" y2="289.27" stroke="#555" stroke-width="2.4" />
<text class="t" font-size="34.5" text-anchor="end" transform="translate(1055.50 298.47) scale(0.95 1)" >-1.00</text>
<line x1="1069.40" y1="314.86" x2="1076.90" y2="314.86" stroke="#555" stroke-width="2.2" />
<line x1="1757.50" y1="314.86" x2="1765.00" y2="314.86" stroke="#555" stroke-width="2.2" />
<line x1="1069.40" y1="340.46" x2="1076.90" y2="340.46" stroke="#555" stroke-width="2.2" />
<line x1="1757.50" y1="340.46" x2="1765.00" y2="340.46" stroke="#555" stroke-width="2.2" />
<line x1="1069.40" y1="366.05" x2="1076.90" y2="366.05" stroke="#555" stroke-width="2.2" />
<line x1="1757.50" y1="366.05" x2="1765.00" y2="366.05" stroke="#555" stroke-width="2.2" />
<line x1="1069.40" y1="391.65" x2="1076.90" y2="391.65" stroke="#555" stroke-width="2.2" />
<line x1="1757.50" y1="391.65" x2="1765.00" y2="391.65" stroke="#555" stroke-width="2.2" />
<line x1="1062.90" y1="417.24" x2="1076.90" y2="417.24" stroke="#555" stroke-width="2.4" />
<line x1="1751.00" y1="417.24" x2="1765.00" y2="417.24" stroke="#555" stroke-width="2.4" />
<text class="t" font-size="34.5" text-anchor="end" transform="translate(1055.50 426.44) scale(0.95 1)" >-2.00</text>
<line x1="1069.40" y1="442.83" x2="1076.90" y2="442.83" stroke="#555" stroke-width="2.2" />
<line x1="1757.50" y1="442.83" x2="1765.00" y2="442.83" stroke="#555" stroke-width="2.2" />
<line x1="1069.40" y1="468.43" x2="1076.90" y2="468.43" stroke="#555" stroke-width="2.2" />
<line x1="1757.50" y1="468.43" x2="1765.00" y2="468.43" stroke="#555" stroke-width="2.2" />
<line x1="1069.40" y1="494.02" x2="1076.90" y2="494.02" stroke="#555" stroke-width="2.2" />
<line x1="1757.50" y1="494.02" x2="1765.00" y2="494.02" stroke="#555" stroke-width="2.2" />
<line x1="1069.40" y1="519.62" x2="1076.90" y2="519.62" stroke="#555" stroke-width="2.2" />
<line x1="1757.50" y1="519.62" x2="1765.00" y2="519.62" stroke="#555" stroke-width="2.2" />
<line x1="1062.90" y1="545.21" x2="1076.90" y2="545.21" stroke="#555" stroke-width="2.4" />
<line x1="1751.00" y1="545.21" x2="1765.00" y2="545.21" stroke="#555" stroke-width="2.4" />
<text class="t" font-size="34.5" text-anchor="end" transform="translate(1055.50 554.41) scale(0.95 1)" >-3.00</text>
<line x1="1069.40" y1="570.80" x2="1076.90" y2="570.80" stroke="#555" stroke-width="2.2" />
<line x1="1757.50" y1="570.80" x2="1765.00" y2="570.80" stroke="#555" stroke-width="2.2" />
<line x1="1069.40" y1="596.40" x2="1076.90" y2="596.40" stroke="#555" stroke-width="2.2" />
<line x1="1757.50" y1="596.40" x2="1765.00" y2="596.40" stroke="#555" stroke-width="2.2" />
<line x1="1069.40" y1="621.99" x2="1076.90" y2="621.99" stroke="#555" stroke-width="2.2" />
<line x1="1757.50" y1="621.99" x2="1765.00" y2="621.99" stroke="#555" stroke-width="2.2" />
<line x1="1069.40" y1="647.59" x2="1076.90" y2="647.59" stroke="#555" stroke-width="2.2" />
<line x1="1757.50" y1="647.59" x2="1765.00" y2="647.59" stroke="#555" stroke-width="2.2" />
<line x1="1062.90" y1="673.18" x2="1076.90" y2="673.18" stroke="#555" stroke-width="2.4" />
<line x1="1751.00" y1="673.18" x2="1765.00" y2="673.18" stroke="#555" stroke-width="2.4" />
<text class="t" font-size="34.5" text-anchor="end" transform="translate(1055.50 682.38) scale(0.95 1)" >-4.00</text>
<line x1="1069.40" y1="698.77" x2="1076.90" y2="698.77" stroke="#555" stroke-width="2.2" />
<line x1="1757.50" y1="698.77" x2="1765.00" y2="698.77" stroke="#555" stroke-width="2.2" />
<line x1="1069.40" y1="724.37" x2="1076.90" y2="724.37" stroke="#555" stroke-width="2.2" />
<line x1="1757.50" y1="724.37" x2="1765.00" y2="724.37" stroke="#555" stroke-width="2.2" />
<line x1="1069.40" y1="749.96" x2="1076.90" y2="749.96" stroke="#555" stroke-width="2.2" />
<line x1="1757.50" y1="749.96" x2="1765.00" y2="749.96" stroke="#555" stroke-width="2.2" />
<line x1="1069.40" y1="775.56" x2="1076.90" y2="775.56" stroke="#555" stroke-width="2.2" />
<line x1="1757.50" y1="775.56" x2="1765.00" y2="775.56" stroke="#555" stroke-width="2.2" />
<line x1="1062.90" y1="801.15" x2="1076.90" y2="801.15" stroke="#555" stroke-width="2.4" />
<line x1="1751.00" y1="801.15" x2="1765.00" y2="801.15" stroke="#555" stroke-width="2.4" />
<text class="t" font-size="34.5" text-anchor="end" transform="translate(1055.50 810.35) scale(0.95 1)" >-5.00</text>
<line x1="1069.40" y1="826.74" x2="1076.90" y2="826.74" stroke="#555" stroke-width="2.2" />
<line x1="1757.50" y1="826.74" x2="1765.00" y2="826.74" stroke="#555" stroke-width="2.2" />
<line x1="1069.40" y1="852.34" x2="1076.90" y2="852.34" stroke="#555" stroke-width="2.2" />
<line x1="1757.50" y1="852.34" x2="1765.00" y2="852.34" stroke="#555" stroke-width="2.2" />
<line x1="1069.40" y1="877.93" x2="1076.90" y2="877.93" stroke="#555" stroke-width="2.2" />
<line x1="1757.50" y1="877.93" x2="1765.00" y2="877.93" stroke="#555" stroke-width="2.2" />
<line x1="1069.40" y1="903.53" x2="1076.90" y2="903.53" stroke="#555" stroke-width="2.2" />
<line x1="1757.50" y1="903.53" x2="1765.00" y2="903.53" stroke="#555" stroke-width="2.2" />
<line x1="1062.90" y1="929.12" x2="1076.90" y2="929.12" stroke="#555" stroke-width="2.4" />
<line x1="1751.00" y1="929.12" x2="1765.00" y2="929.12" stroke="#555" stroke-width="2.4" />
<text class="t" font-size="34.5" text-anchor="end" transform="translate(1055.50 938.32) scale(0.95 1)" >-6.00</text>
<line x1="1069.40" y1="954.71" x2="1076.90" y2="954.71" stroke="#555" stroke-width="2.2" />
<line x1="1757.50" y1="954.71" x2="1765.00" y2="954.71" stroke="#555" stroke-width="2.2" />
<line x1="1069.40" y1="980.31" x2="1076.90" y2="980.31" stroke="#555" stroke-width="2.2" />
<line x1="1757.50" y1="980.31" x2="1765.00" y2="980.31" stroke="#555" stroke-width="2.2" />
<line x1="1069.40" y1="1005.90" x2="1076.90" y2="1005.90" stroke="#555" stroke-width="2.2" />
<line x1="1757.50" y1="1005.90" x2="1765.00" y2="1005.90" stroke="#555" stroke-width="2.2" />
<line x1="1069.40" y1="1031.50" x2="1076.90" y2="1031.50" stroke="#555" stroke-width="2.2" />
<line x1="1757.50" y1="1031.50" x2="1765.00" y2="1031.50" stroke="#555" stroke-width="2.2" />
<line x1="1751.00" y1="1057.09" x2="1765.00" y2="1057.09" stroke="#555" stroke-width="2.4" />
<text class="t" font-size="34.5" text-anchor="end" transform="translate(1055.50 1066.29) scale(0.95 1)" >-7.00</text>
<text class="t" font-size="34.8" text-anchor="middle" transform="translate(942.6 594.6) rotate(-90)">kcal mol<tspan font-size="20" dy="-20" letter-spacing="1.5">-1</tspan><tspan dy="20" dx="2.5"> of injectant</tspan></text>
<path d="M1147.00,974.20 C1151.12,973.17 1162.97,970.83 1171.70,968.00 C1180.43,965.17 1191.70,961.30 1199.40,957.20 C1207.10,953.10 1212.25,949.05 1217.90,943.40 C1223.55,937.75 1228.68,930.23 1233.30,923.30 C1237.92,916.37 1242.57,907.68 1245.60,901.80 C1248.63,895.92 1248.32,898.88 1251.50,888.00 C1254.68,877.12 1260.23,853.25 1264.70,836.50 C1269.17,819.75 1273.80,801.75 1278.30,787.50 C1282.80,773.25 1287.13,762.92 1291.70,751.00 C1296.27,739.08 1301.12,726.08 1305.70,716.00 C1310.28,705.92 1314.68,698.08 1319.20,690.50 C1323.72,682.92 1328.28,676.67 1332.80,670.50 C1337.32,664.33 1341.63,658.75 1346.30,653.50 C1350.97,648.25 1356.07,643.00 1360.80,639.00 C1365.53,635.00 1370.03,632.33 1374.70,629.50 C1379.37,626.67 1384.03,624.33 1388.80,622.00 C1393.57,619.67 1398.52,617.92 1403.30,615.50 C1408.08,613.08 1412.82,610.50 1417.50,607.50 C1422.18,604.50 1426.73,601.75 1431.40,597.50 C1436.07,593.25 1440.78,587.92 1445.50,582.00 C1450.22,576.08 1454.92,569.50 1459.70,562.00 C1464.48,554.50 1469.37,546.83 1474.20,537.00 C1479.03,527.17 1483.85,514.33 1488.70,503.00 C1493.55,491.67 1498.42,480.83 1503.30,469.00 C1508.18,457.17 1513.08,444.67 1518.00,432.00 C1522.92,419.33 1527.92,406.33 1532.80,393.00 C1537.68,379.67 1542.43,364.75 1547.30,352.00 C1552.17,339.25 1557.15,327.00 1562.00,316.50 C1566.85,306.00 1571.45,297.25 1576.40,289.00 C1581.35,280.75 1586.67,273.92 1591.70,267.00 C1596.73,260.08 1601.57,253.58 1606.60,247.50 C1611.63,241.42 1616.78,235.58 1621.90,230.50 C1627.02,225.42 1632.28,221.00 1637.30,217.00 C1642.32,213.00 1646.98,209.67 1652.00,206.50 C1657.02,203.33 1662.30,200.50 1667.40,198.00 C1672.50,195.50 1677.47,193.58 1682.60,191.50 C1687.73,189.42 1693.02,187.42 1698.20,185.50 C1703.38,183.58 1711.12,180.92 1713.70,180.00" fill="none" stroke="#6a6a6a" stroke-width="1.25"/>
<rect x="1217.20" y="928.90" width="13.6" height="13.6" fill="#0a0a0a"/>
<rect x="1231.10" y="927.30" width="13.6" height="13.6" fill="#0a0a0a"/>
<rect x="1244.00" y="882.60" width="13.6" height="13.6" fill="#0a0a0a"/>
<rect x="1257.90" y="828.70" width="13.6" height="13.6" fill="#0a0a0a"/>
<rect x="1271.50" y="779.30" width="13.6" height="13.6" fill="#0a0a0a"/>
<rect x="1284.90" y="751.80" width="13.6" height="13.6" fill="#0a0a0a"/>
<rect x="1298.90" y="706.80" width="13.6" height="13.6" fill="#0a0a0a"/>
<rect x="1312.40" y="684.30" width="13.6" height="13.6" fill="#0a0a0a"/>
<rect x="1326.00" y="663.30" width="13.6" height="13.6" fill="#0a0a0a"/>
<rect x="1339.50" y="646.70" width="13.6" height="13.6" fill="#0a0a0a"/>
<rect x="1354.00" y="631.30" width="13.6" height="13.6" fill="#0a0a0a"/>
<rect x="1367.90" y="621.70" width="13.6" height="13.6" fill="#0a0a0a"/>
<rect x="1382.00" y="614.30" width="13.6" height="13.6" fill="#0a0a0a"/>
<rect x="1396.50" y="610.30" width="13.6" height="13.6" fill="#0a0a0a"/>
<rect x="1410.70" y="603.60" width="13.6" height="13.6" fill="#0a0a0a"/>
<rect x="1424.60" y="595.90" width="13.6" height="13.6" fill="#0a0a0a"/>
<rect x="1438.70" y="578.90" width="13.6" height="13.6" fill="#0a0a0a"/>
<rect x="1452.90" y="553.30" width="13.6" height="13.6" fill="#0a0a0a"/>
<rect x="1467.40" y="537.00" width="13.6" height="13.6" fill="#0a0a0a"/>
<rect x="1481.90" y="493.00" width="13.6" height="13.6" fill="#0a0a0a"/>
<rect x="1496.50" y="463.60" width="13.6" height="13.6" fill="#0a0a0a"/>
<rect x="1511.20" y="425.20" width="13.6" height="13.6" fill="#0a0a0a"/>
<rect x="1526.00" y="388.00" width="13.6" height="13.6" fill="#0a0a0a"/>
<rect x="1540.50" y="342.70" width="13.6" height="13.6" fill="#0a0a0a"/>
<rect x="1555.20" y="309.70" width="13.6" height="13.6" fill="#0a0a0a"/>
<rect x="1569.60" y="280.70" width="13.6" height="13.6" fill="#0a0a0a"/>
<rect x="1584.90" y="266.00" width="13.6" height="13.6" fill="#0a0a0a"/>
<rect x="1599.80" y="241.80" width="13.6" height="13.6" fill="#0a0a0a"/>
<rect x="1615.10" y="223.00" width="13.6" height="13.6" fill="#0a0a0a"/>
<rect x="1630.50" y="209.40" width="13.6" height="13.6" fill="#0a0a0a"/>
<rect x="1645.20" y="202.20" width="13.6" height="13.6" fill="#0a0a0a"/>
<rect x="1660.60" y="186.20" width="13.6" height="13.6" fill="#0a0a0a"/>
<rect x="1675.80" y="193.90" width="13.6" height="13.6" fill="#0a0a0a"/>
<rect x="1691.40" y="179.70" width="13.6" height="13.6" fill="#0a0a0a"/>
<rect x="1706.90" y="170.70" width="13.6" height="13.6" fill="#0a0a0a"/>
<text class="t" font-size="79" transform="translate(937.3 95.2) scale(0.875 1)" text-anchor="middle">B</text>
</svg>
</body>
</html>
